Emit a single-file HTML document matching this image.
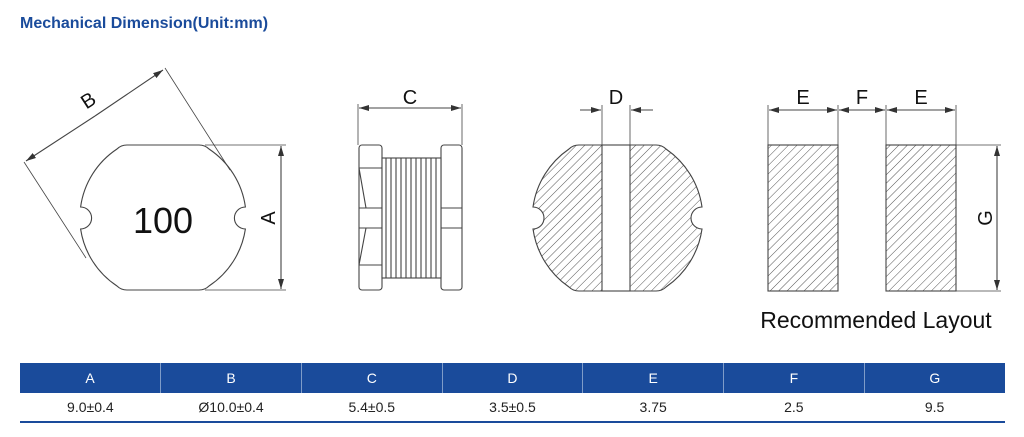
<!DOCTYPE html>
<html><head><meta charset="utf-8"><style>
body{margin:0;width:1024px;height:437px;background:#fff;overflow:hidden;font-family:"Liberation Sans",sans-serif;}
.title{position:absolute;left:20px;top:15px;font-weight:bold;font-size:16px;color:#1a4b9b;}
table{position:absolute;left:20px;top:363px;border-collapse:collapse;width:985px;table-layout:fixed;font-size:14px;}
th{background:#1a4b9b;color:#fff;font-weight:normal;height:30px;border-left:1px solid #7f9cc8;padding:0;}
th:first-child{border-left:none;}
td{height:28px;text-align:center;color:#222;padding:0;border-bottom:2px solid #1a4b9b;}
</style></head><body>
<div class="title">Mechanical Dimension(Unit:mm)</div>
<svg width="1024" height="437" style="position:absolute;left:0;top:0" xmlns="http://www.w3.org/2000/svg">
<defs>
<marker id="ar" viewBox="0 0 10 6" refX="10" refY="3" markerWidth="10" markerHeight="6" orient="auto" markerUnits="userSpaceOnUse"><path d="M0,0 L10,3 L0,6z" fill="#333"/></marker>
<pattern id="h" patternUnits="userSpaceOnUse" width="6" height="6" patternTransform="rotate(45)"><line x1="0" y1="0" x2="0" y2="6" stroke="#555" stroke-width="1"/></pattern>
</defs>
<g fill="none" stroke="#444" stroke-width="1.1">
<path d="M127,145 L199,145 Q205,145 209,149 A83,83 0 0 1 245.4,207 A11,11 0 0 0 245.4,229 A83,83 0 0 1 209,286 Q205,290 199,290 L127,290 Q121,290 117,286 A83,83 0 0 1 80.6,229 A11,11 0 0 0 80.6,207 A83,83 0 0 1 117,149 Q121,145 127,145Z" fill="#fff"/>
<line x1="205" y1="145" x2="286" y2="145" stroke-width="0.8"/>
<line x1="205" y1="290" x2="286" y2="290" stroke-width="0.8"/>
<line x1="281" y1="218" x2="281" y2="146" marker-end="url(#ar)"/>
<line x1="281" y1="218" x2="281" y2="289" marker-end="url(#ar)"/>
<line x1="24" y1="162" x2="86" y2="258" stroke-width="0.8"/>
<line x1="165" y1="68" x2="230" y2="170" stroke-width="0.8"/>
<line x1="95" y1="116" x2="26" y2="161" marker-end="url(#ar)"/>
<line x1="95" y1="116" x2="163" y2="70" marker-end="url(#ar)"/>
<rect x="359" y="145" width="23" height="145" rx="3"/>
<rect x="441" y="145" width="21" height="145" rx="3"/>
<rect x="382" y="158" width="59" height="120" fill="#fff"/>
<path d="M359,168 L382,168 M359,208 L382,208 M359,228 L382,228 M359,265 L382,265 M359,168 L366,208 M366,228 L359,265 M441,208 L462,208 M441,228 L462,228"/>
<path d="M386,158V278M391,158V278M396,158V278M401,158V278M406,158V278M411,158V278M416,158V278M421,158V278M426,158V278M431,158V278M436,158V278"/>
<line x1="358" y1="104" x2="358" y2="145" stroke-width="0.8"/>
<line x1="462" y1="104" x2="462" y2="145" stroke-width="0.8"/>
<line x1="410" y1="108" x2="359" y2="108" marker-end="url(#ar)"/>
<line x1="410" y1="108" x2="461" y2="108" marker-end="url(#ar)"/>
<path d="M579,145 L656,145 Q662,145 666,149 A85,85 0 0 1 702,207 A11,11 0 0 0 702,229 A85,85 0 0 1 666,287 Q662,291 656,291 L579,291 Q573,291 569,287 A85,85 0 0 1 533,229 A11,11 0 0 0 533,207 A85,85 0 0 1 569,149 Q573,145 579,145Z" fill="url(#h)"/>
<rect x="602" y="145" width="28" height="146" fill="#fff"/>
<line x1="602" y1="105" x2="602" y2="145" stroke-width="0.8"/>
<line x1="630" y1="105" x2="630" y2="145" stroke-width="0.8"/>
<line x1="580" y1="110" x2="601" y2="110" marker-end="url(#ar)"/>
<line x1="653" y1="110" x2="631" y2="110" marker-end="url(#ar)"/>
<rect x="768" y="145" width="70" height="146" fill="url(#h)"/>
<rect x="886" y="145" width="70" height="146" fill="url(#h)"/>
<path d="M768,105V145M838,105V145M886,105V145M956,105V145" stroke-width="0.8"/>
<line x1="803" y1="110" x2="769" y2="110" marker-end="url(#ar)"/>
<line x1="803" y1="110" x2="837" y2="110" marker-end="url(#ar)"/>
<line x1="862" y1="110" x2="839" y2="110" marker-end="url(#ar)"/>
<line x1="862" y1="110" x2="885" y2="110" marker-end="url(#ar)"/>
<line x1="921" y1="110" x2="887" y2="110" marker-end="url(#ar)"/>
<line x1="921" y1="110" x2="955" y2="110" marker-end="url(#ar)"/>
<line x1="956" y1="145" x2="1001" y2="145" stroke-width="0.8"/>
<line x1="956" y1="291" x2="1001" y2="291" stroke-width="0.8"/>
<line x1="997" y1="218" x2="997" y2="146" marker-end="url(#ar)"/>
<line x1="997" y1="218" x2="997" y2="290" marker-end="url(#ar)"/>
</g>
<g font-family="Liberation Sans, sans-serif" fill="#111" font-size="20" text-anchor="middle">
<text x="163" y="233" font-size="36">100</text>
<text x="0" y="0" transform="translate(92,106) rotate(-33)">B</text>
<text x="0" y="0" transform="translate(275,218) rotate(-90)">A</text>
<text x="410" y="104">C</text>
<text x="616" y="104">D</text>
<text x="803" y="104">E</text>
<text x="862" y="104">F</text>
<text x="921" y="104">E</text>
<text x="0" y="0" transform="translate(992,218) rotate(-90)">G</text>
<text x="876" y="328" font-size="23">Recommended Layout</text>
</g>
</svg>
<table><tr><th>A</th><th>B</th><th>C</th><th>D</th><th>E</th><th>F</th><th>G</th></tr>
<tr><td>9.0±0.4</td><td>Ø10.0±0.4</td><td>5.4±0.5</td><td>3.5±0.5</td><td>3.75</td><td>2.5</td><td>9.5</td></tr></table>
</body></html>
